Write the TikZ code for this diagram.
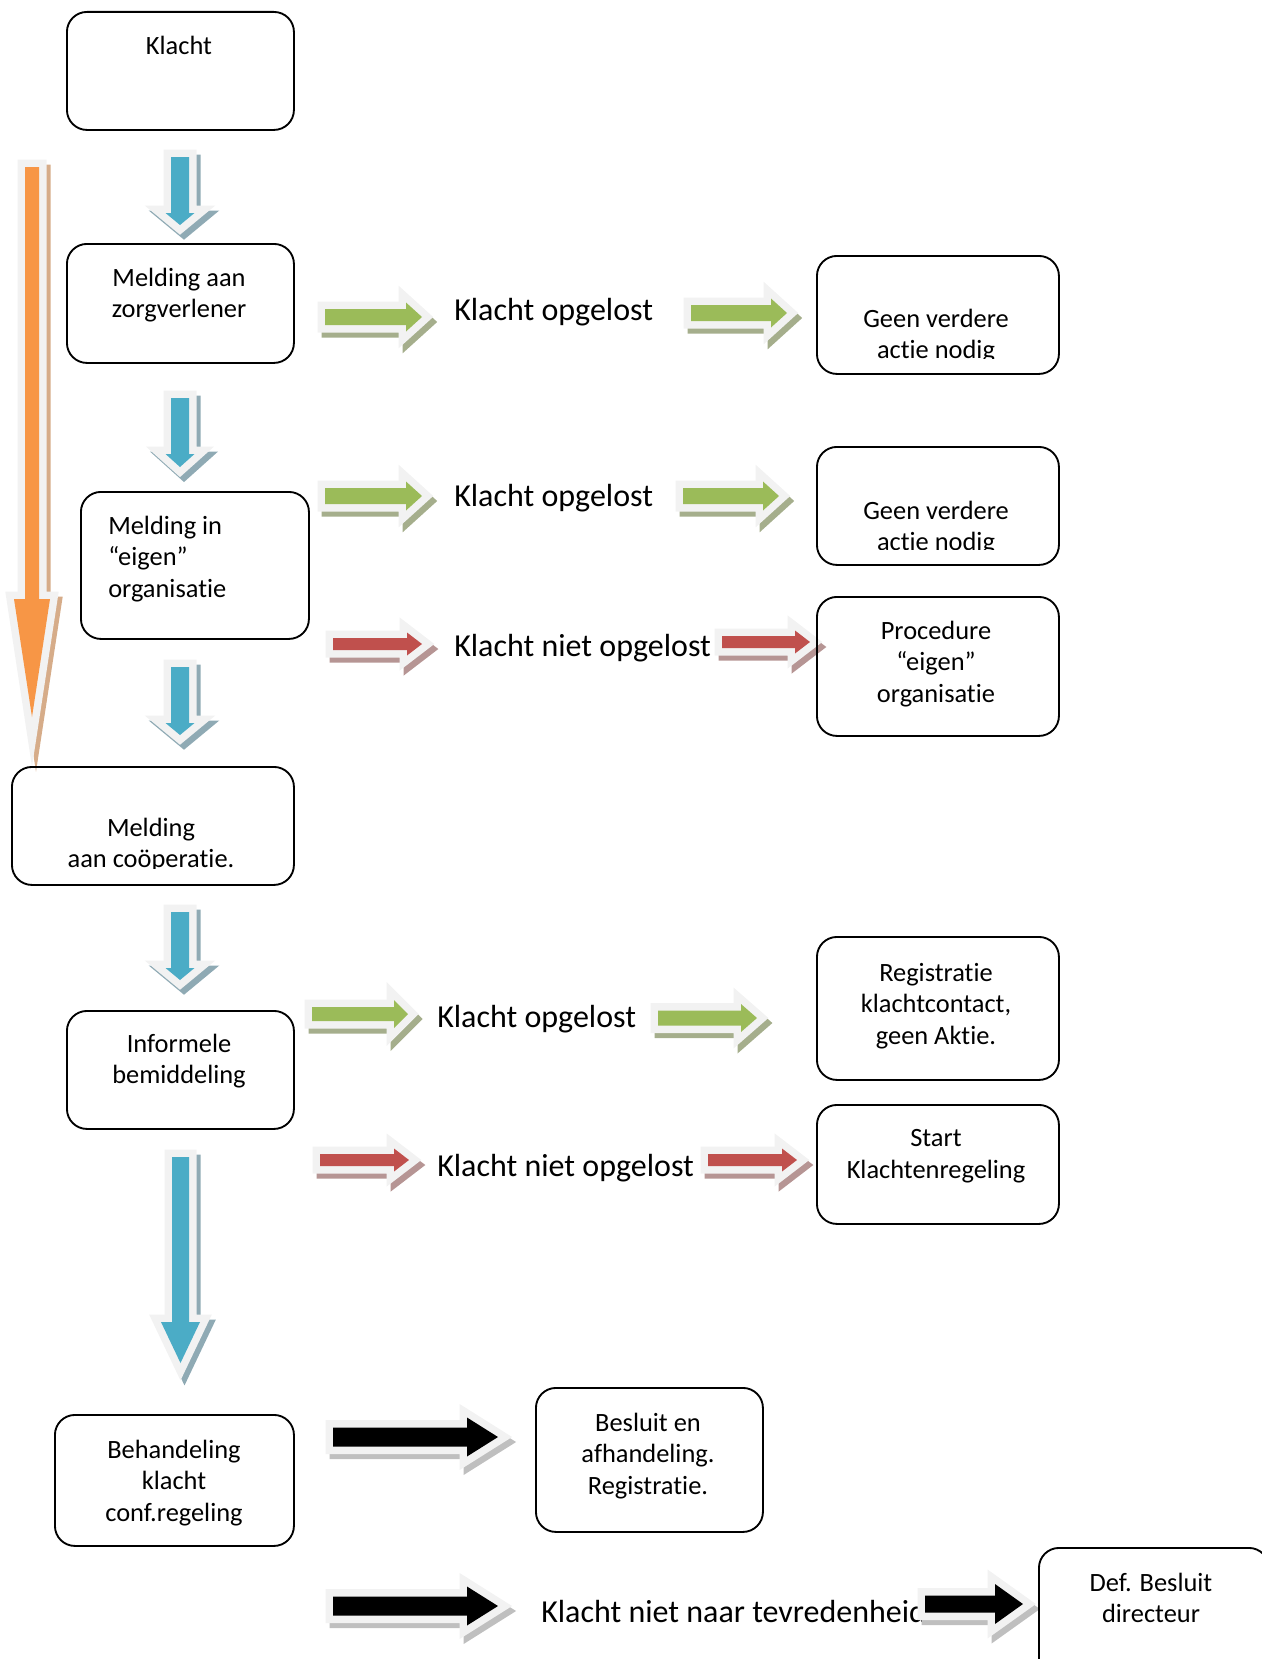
\documentclass[tikz,border=0pt]{standalone}
\usepackage{fontspec}
\setmainfont{Carlito}[Ligatures=NoCommon]

\definecolor{arrowblue}{HTML}{4BACC6}
\definecolor{blueshade}{HTML}{8FAAB4}
\definecolor{arrowgreen}{HTML}{9BBB59}
\definecolor{greenshade}{HTML}{A5AE8C}
\definecolor{arrowred}{HTML}{C0504D}
\definecolor{redshade}{HTML}{B69594}
\definecolor{arroworange}{HTML}{F79646}
\definecolor{orangeshade}{HTML}{D6AC89}
\definecolor{blackshade}{HTML}{BFBFBF}
\definecolor{arrowrim}{HTML}{F2F2F2}

\newcommand{\boxfont}{\fontsize{19.8pt}{23.8pt}\selectfont}
\newcommand{\lblfont}{\fontsize{24pt}{29pt}\selectfont}

% block arrow outline: length, shaft half width, head half width, head length
\newcommand{\arrowshape}[4]{(0,-#2) -- (#1-#4,-#2) -- (#1-#4,-#3) -- (#1,0) -- (#1-#4,#3) -- (#1-#4,#2) -- (0,#2) -- cycle}

% colour, shadow, tail x, tail y, angle, length, shaft, head, head length
\newcommand{\blockarrow}[9]{%
  \begin{scope}[shift={(#3+4,#4+5)}, rotate=#5]
    \filldraw[#2, line width=11.25pt] \arrowshape{#6}{#7}{#8}{#9};
  \end{scope}
  \begin{scope}[shift={(#3,#4)}, rotate=#5]
    \filldraw[arrowrim, line width=11.25pt] \arrowshape{#6}{#7}{#8}{#9};
    \fill[#1] \arrowshape{#6}{#7}{#8}{#9};
  \end{scope}}

\begin{document}
\begin{tikzpicture}[x=0.75pt, y=-0.75pt,
    box/.style={draw, line width=1.4pt, rounded corners=15pt, inner sep=0pt, anchor=north west},
    boxtext/.style={font=\boxfont, align=center, inner sep=0pt},
    lbl/.style={font=\lblfont, anchor=west, inner sep=0pt}]
  \useasboundingbox (0,0) rectangle (1261,1659);

  % labels between the arrows
  \node[lbl] (opgelost1) at (454,312) {Klacht opgelost};
  \node[lbl] (opgelost2) at (454,498) {Klacht opgelost};
  \node[lbl] (nietopgelost1) at (454,648) {Klacht niet opgelost};
  \node[lbl] (opgelost3) at (437,1019) {Klacht opgelost};
  \node[lbl] (nietopgelost2) at (437,1168) {Klacht niet opgelost};
  \node[lbl] (tevreden) at (541,1611) {Klacht niet naar tevredenheid};

  % block arrows
  \blockarrow{arroworange}{orangeshade}{32}{167}{-90}{550}{7}{18}{118}
  \blockarrow{arrowblue}{blueshade}{180}{157}{-90}{68}{9}{14.5}{12}
  \blockarrow{arrowblue}{blueshade}{180}{398}{-90}{69}{9}{14.5}{13}
  \blockarrow{arrowblue}{blueshade}{180}{667}{-90}{68}{9}{14.5}{12}
  \blockarrow{arrowblue}{blueshade}{180}{912}{-90}{68}{9}{14.5}{12}
  \blockarrow{arrowblue}{blueshade}{180.5}{1157}{-90}{206}{8.5}{19.5}{41}

  \blockarrow{arrowgreen}{greenshade}{325}{317}{0}{97}{8}{14.5}{16}
  \blockarrow{arrowgreen}{greenshade}{691}{313}{0}{96}{8}{14.5}{16}
  \blockarrow{arrowgreen}{greenshade}{325}{496}{0}{97}{8}{14.5}{16}
  \blockarrow{arrowgreen}{greenshade}{683}{496}{0}{96}{8}{14.5}{16}
  \blockarrow{arrowgreen}{greenshade}{312}{1014}{0}{96}{7}{14}{14}
  \blockarrow{arrowgreen}{greenshade}{658}{1018}{0}{99}{7.5}{14}{16}

  \blockarrow{arrowred}{redshade}{333}{644}{0}{89}{6}{11.5}{15}
  \blockarrow{arrowred}{redshade}{722}{642}{0}{88}{6}{11.5}{15}
  \blockarrow{arrowred}{redshade}{320}{1160}{0}{89}{6}{11.5}{15}
  \blockarrow{arrowred}{redshade}{708}{1160}{0}{89}{6}{11.5}{15}

  \blockarrow{black}{blackshade}{333}{1437}{0}{165}{9.5}{19.5}{31}
  \blockarrow{black}{blackshade}{333}{1606}{0}{165}{9.5}{19.5}{31}
  \blockarrow{black}{blackshade}{925}{1604}{0}{98}{8.5}{20}{28}

  % boxes, left column
  \node[box, minimum width=170.25pt, minimum height=88.5pt] (klacht) at (66,11) {};
  \node[box, minimum width=170.25pt, minimum height=89.25pt] (zorg) at (66,243) {};
  \node[box, minimum width=171pt, minimum height=110.25pt] (eigen) at (80,491) {};
  \node[box, minimum width=211.5pt, minimum height=88.5pt] (coop) at (11,766) {};
  \node[box, minimum width=170.25pt, minimum height=88.5pt] (informeel) at (66,1010) {};
  \node[box, minimum width=179.25pt, minimum height=98.25pt] (behandeling) at (54,1414) {};
  % boxes, right side
  \node[box, minimum width=181.5pt, minimum height=88.5pt] (geen1) at (816,255) {};
  \node[box, minimum width=181.5pt, minimum height=88.5pt] (geen2) at (816,446) {};
  \node[box, minimum width=181.5pt, minimum height=104.25pt] (procedure) at (816,596) {};
  \node[box, minimum width=181.5pt, minimum height=107.25pt] (registratie) at (816,936) {};
  \node[box, minimum width=181.5pt, minimum height=89.25pt] (start) at (816,1104) {};
  \node[box, minimum width=170.25pt, minimum height=108pt] (besluit) at (535,1387) {};
  \node[box, minimum width=172.5pt, minimum height=99.75pt] (directeur) at (1038,1547) {};

  % box texts
  \node[boxtext] (klachtT) at (179,45) {Klacht};
  \node[boxtext] (zorgT) at (179,295) {Melding aan\\zorgverlener};
  \node[boxtext, align=left, anchor=west] (eigenT) at (108,559) {Melding in\\“eigen”\\organisatie};
  \begin{scope}
    \clip (11,766) rectangle (293,868);
    \node[boxtext] (coopT) at (151,845) {Melding\\aan coöperatie.};
  \end{scope}
  \node[boxtext] (informeelT) at (179,1061) {Informele\\bemiddeling};
  \node[boxtext] (behandelingT) at (174,1483) {Behandeling\\klacht\\conf.regeling};
  \begin{scope}
    \clip (816,255) rectangle (1058,358);
    \node[boxtext] (geen1T) at (936,336) {Geen verdere\\actie nodig};
  \end{scope}
  \begin{scope}
    \clip (816,446) rectangle (1058,549);
    \node[boxtext] (geen2T) at (936,528) {Geen verdere\\actie nodig};
  \end{scope}
  \node[boxtext] (procedureT) at (936,664) {Procedure\\“eigen”\\organisatie};
  \node[boxtext] (registratieT) at (936,1006) {Registratie\\klachtcontact,\\geen Aktie.};
  \node[boxtext] (startT) at (936,1156) {Start\\Klachtenregeling};
  \node[boxtext] (besluitT) at (648,1456) {Besluit en\\afhandeling.\\Registratie.};
  \node[boxtext] (directeurT) at (1151,1598) {Def. Besluit\\directeur};
\end{tikzpicture}
\end{document}
